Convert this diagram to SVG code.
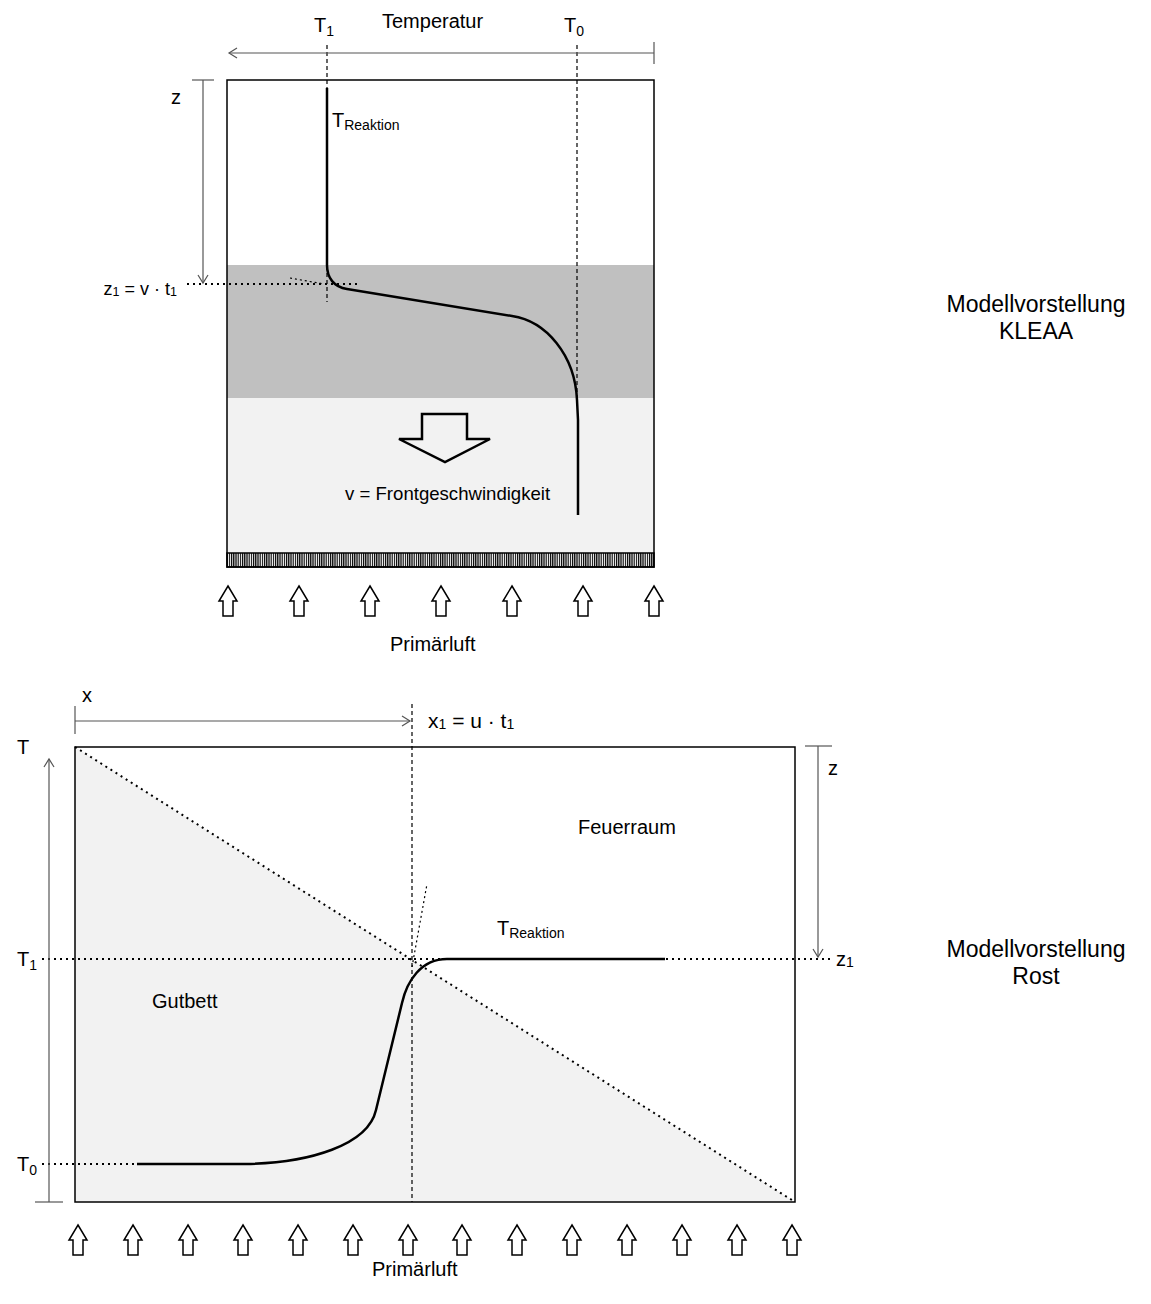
<svg xmlns="http://www.w3.org/2000/svg" width="1151" height="1304" viewBox="0 0 1151 1304">
  <style>
    text { font-family: "Liberation Sans", Arial, sans-serif; font-size: 20px; fill: #000; }
    .sub { font-size: 14px; }
    .big { font-size: 23px; }
    .frame { fill: none; stroke: #000; stroke-width: 1.5; }
    .curve { fill: none; stroke: #000; stroke-width: 2.5; stroke-linejoin: round; }
    .dim { fill: none; stroke: #555; stroke-width: 1.2; }
    .dotted { fill: none; stroke: #000; stroke-width: 2; stroke-dasharray: 2 4; }
    .dashed { fill: none; stroke: #000; stroke-width: 1.2; stroke-dasharray: 4 3; }
    .thin-dot { fill: none; stroke: #000; stroke-width: 1.2; stroke-dasharray: 2 3; }
    .air { fill: #fff; stroke: #000; stroke-width: 1.5; stroke-linejoin: miter; }
  </style>
  <defs>
    <marker id="open-head" viewBox="-10 -6 12 12" markerWidth="12" markerHeight="12" refX="0" refY="0" orient="auto" markerUnits="userSpaceOnUse">
      <path d="M-8,-5 L0,0 L-8,5" fill="none" stroke="#555" stroke-width="1.2"/>
    </marker>
    <pattern id="grate" width="2.2" height="14" patternUnits="userSpaceOnUse">
      <rect width="2.2" height="14" fill="#fff"/>
      <rect width="1.2" height="14" fill="#000"/>
    </pattern>
    <!-- small hollow up-arrow for primary air, tip at origin -->
    <path id="air-arrow" class="air" d="M0,0 L9,15 L5,15 L5,30 L-5,30 L-5,15 L-9,15 Z"/>
  </defs>

  <rect width="1151" height="1304" fill="#fff"/>

  <!-- ===== Upper model: KLEAA ===== -->
  <g id="kleaa-bed">
    <rect x="227" y="80" width="427" height="185" fill="#fff"/>
    <rect x="227" y="265" width="427" height="133" fill="#c0c0c0"/>
    <rect x="227" y="398" width="427" height="155" fill="#f2f2f2"/>
    <rect x="227" y="553" width="427" height="14" fill="url(#grate)" stroke="#000" stroke-width="1.5"/>
    <rect class="frame" x="227" y="80" width="427" height="487"/>
  </g>

  <g id="kleaa-front-arrow">
    <polygon points="422,414 467,414 467,439 490,439 445,462 399,439 422,439" fill="none" stroke="#000" stroke-width="2.5"/>
    <text x="345" y="500" style="font-size:18.6px">v = Frontgeschwindigkeit</text>
  </g>

  <g id="kleaa-guides">
    <path class="dashed" d="M327,45 L327,88"/>
    <path class="dashed" d="M327,266 L327,302"/>
    <path class="dashed" d="M577,45 L577,398"/>
    <path class="dotted" d="M187,284 L357,284"/>
    <path class="thin-dot" d="M290,278 L324,284"/>
  </g>

  <g id="kleaa-profile">
    <path class="curve" d="M327,88 L327,265 C327,278 334,287 347,289 L512,316 C546,321 575,355 577,400 L578,420 L578,515"/>
  </g>

  <g id="kleaa-axes">
    <path class="dim" d="M654,53 L229,53" marker-end="url(#open-head)"/>
    <path class="dim" d="M654,42 L654,64"/>
    <path class="dim" d="M192,80 L214,80"/>
    <path class="dim" d="M203,80 L203,283" marker-end="url(#open-head)"/>
  </g>

  <g id="kleaa-labels">
    <text x="314" y="32">T<tspan class="sub" dy="4">1</tspan></text>
    <text x="382" y="28">Temperatur</text>
    <text x="564" y="32">T<tspan class="sub" dy="4">0</tspan></text>
    <text x="171" y="104">z</text>
    <text x="332" y="127">T<tspan class="sub" dy="3">Reaktion</tspan></text>
    <text x="177" y="295" text-anchor="end" style="font-size:18px">z<tspan style="font-size:12.5px" dy="1">1</tspan><tspan dy="-1"> = v · t</tspan><tspan style="font-size:12.5px" dy="1">1</tspan></text>
  </g>

  <g id="kleaa-air">
    <use href="#air-arrow" x="228" y="586"/>
    <use href="#air-arrow" x="299" y="586"/>
    <use href="#air-arrow" x="370" y="586"/>
    <use href="#air-arrow" x="441" y="586"/>
    <use href="#air-arrow" x="512" y="586"/>
    <use href="#air-arrow" x="583" y="586"/>
    <use href="#air-arrow" x="654" y="586"/>
    <text x="390" y="651">Primärluft</text>
  </g>

  <g id="kleaa-title">
    <text class="big" x="1036" y="312" text-anchor="middle">Modellvorstellung</text>
    <text class="big" x="1036" y="339" text-anchor="middle">KLEAA</text>
  </g>

  <!-- ===== Lower model: grate ===== -->
  <g id="rost-bed">
    <rect x="75" y="747" width="720" height="455" fill="#fff"/>
    <polygon points="75,747 75,1202 795,1202" fill="#f2f2f2"/>
    <path class="dotted" d="M75,747 L795,1202"/>
    <rect class="frame" x="75" y="747" width="720" height="455"/>
  </g>

  <g id="rost-guides">
    <path class="dashed" d="M412,704 L412,1202"/>
    <path class="dotted" d="M42,959 L830,959"/>
    <path class="dotted" d="M42,1164 L137,1164"/>
    <path class="thin-dot" d="M412,967 L427,884"/>
  </g>

  <g id="rost-profile">
    <path class="curve" d="M137,1164 L245,1164 C310,1163 368,1145 376,1110 L402,1003 C407,981 421,959 447,959 L665,959"/>
  </g>

  <g id="rost-axes">
    <path class="dim" d="M75,706 L75,734"/>
    <path class="dim" d="M75,721 L410,721" marker-end="url(#open-head)"/>
    <path class="dim" d="M35,1202 L63,1202"/>
    <path class="dim" d="M49,1202 L49,759" marker-end="url(#open-head)"/>
    <path class="dim" d="M805,746 L832,746"/>
    <path class="dim" d="M818,746 L818,957" marker-end="url(#open-head)"/>
  </g>

  <g id="rost-labels">
    <text x="82" y="702">x</text>
    <text x="428" y="728" style="font-size:21px">x<tspan class="sub" dy="1">1</tspan><tspan dy="-1"> = u · t</tspan><tspan class="sub" dy="1">1</tspan></text>
    <text x="17" y="754">T</text>
    <text x="828" y="775">z</text>
    <text x="578" y="834">Feuerraum</text>
    <text x="497" y="935">T<tspan class="sub" dy="3">Reaktion</tspan></text>
    <text x="17" y="966">T<tspan class="sub" dy="4">1</tspan></text>
    <text x="836" y="966">z<tspan class="sub" dy="1">1</tspan></text>
    <text x="152" y="1008">Gutbett</text>
    <text x="17" y="1171">T<tspan class="sub" dy="4">0</tspan></text>
  </g>

  <g id="rost-air">
    <use href="#air-arrow" x="78" y="1225"/>
    <use href="#air-arrow" x="133" y="1225"/>
    <use href="#air-arrow" x="188" y="1225"/>
    <use href="#air-arrow" x="243" y="1225"/>
    <use href="#air-arrow" x="298" y="1225"/>
    <use href="#air-arrow" x="353" y="1225"/>
    <use href="#air-arrow" x="408" y="1225"/>
    <use href="#air-arrow" x="462" y="1225"/>
    <use href="#air-arrow" x="517" y="1225"/>
    <use href="#air-arrow" x="572" y="1225"/>
    <use href="#air-arrow" x="627" y="1225"/>
    <use href="#air-arrow" x="682" y="1225"/>
    <use href="#air-arrow" x="737" y="1225"/>
    <use href="#air-arrow" x="792" y="1225"/>
    <text x="372" y="1276">Primärluft</text>
  </g>

  <g id="rost-title">
    <text class="big" x="1036" y="957" text-anchor="middle">Modellvorstellung</text>
    <text class="big" x="1036" y="984" text-anchor="middle">Rost</text>
  </g>
</svg>
